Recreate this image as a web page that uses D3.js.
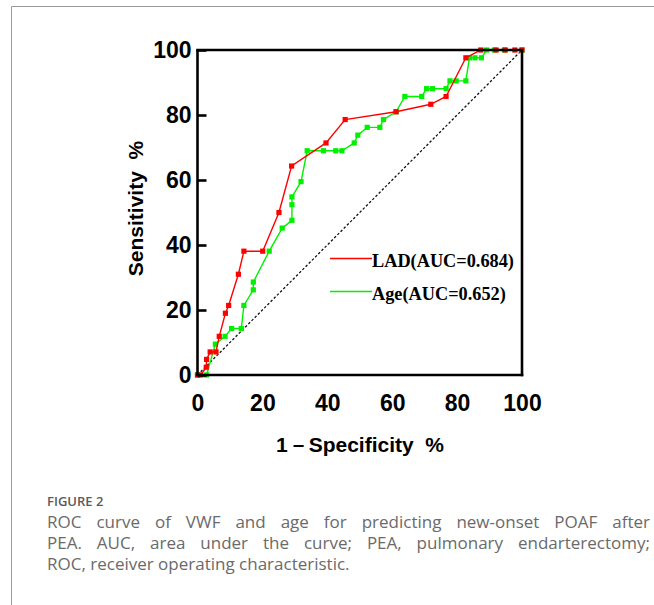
<!DOCTYPE html>
<html>
<head>
<meta charset="utf-8">
<script src="https://cdn.jsdelivr.net/npm/d3@7/dist/d3.min.js"></script>
<style>
  html, body { margin: 0; padding: 0; background: #fff; }
  svg { display: block; }
</style>
</head>
<body>
<svg id="chart" width="654" height="605"></svg>
<script>
// ---- data ----
const ladX = [0, 1.0, 2.7, 2.8, 3.9, 5.7, 6.7, 8.6, 9.6, 12.6, 14.3, 20.1, 25.1, 29.0, 39.6, 45.5, 61.2, 71.9, 76.6, 82.7, 87.3, 92.0, 94.8, 97.8, 100];
const ladY = [0, 0, 2.4, 4.8, 7.1, 7.1, 11.9, 19.0, 21.4, 31.0, 38.1, 38.1, 50.0, 64.3, 71.4, 78.6, 81.0, 83.3, 85.7, 97.6, 100, 100, 100, 100, 100];
const ageX = [0, 2.8, 5.5, 8.5, 10.5, 13.5, 14.3, 17.2, 17.2, 22.1, 26.1, 29.1, 29.1, 29.1, 31.9, 33.8, 38.8, 42.6, 44.5, 48.3, 49.4, 52.3, 56.2, 57.3, 61.2, 63.9, 69.1, 70.6, 72.4, 76.6, 77.8, 79.7, 82.7, 83.8, 85.5, 87.5, 89.1, 91.5, 94.6, 100];
const ageY = [0, 0, 9.5, 11.9, 14.3, 14.3, 21.4, 26.2, 28.6, 38.1, 45.2, 47.6, 52.4, 54.8, 59.5, 69.0, 69.0, 69.0, 69.0, 71.4, 73.8, 76.2, 76.2, 78.6, 81.0, 85.7, 85.7, 88.1, 88.1, 88.1, 90.5, 90.5, 90.5, 97.6, 97.6, 97.6, 100, 100, 100, 100];
const refX = [0, 100];
const refY = [0, 100];
const tickValues = [0, 20, 40, 60, 80, 100];
const seriesNames = ["LAD(AUC=0.684)", "Age(AUC=0.652)"];
const seriesColors = ["#ff0000", "#00f000"];
const xTitle = "1－Specificity  %";
const yTitle = "Sensitivity  %";
const captionHead = "FIGURE 2";
const captionLines = [
  "ROC curve of VWF and age for predicting new-onset POAF after",
  "PEA. AUC, area under the curve; PEA, pulmonary endarterectomy;",
  "ROC, receiver operating characteristic."
];

const svg = d3.select("#chart");

// page frame
svg.append("path")
  .attr("d", "M11.5,605 V6.5 H654")
  .attr("fill", "none").attr("stroke", "#9a9a9a").attr("stroke-width", 1);

const x = d3.scaleLinear().domain([0, 100]).range([197.5, 522]);
const y = d3.scaleLinear().domain([0, 100]).range([375, 50]);

const tickFont = "'Liberation Sans', Arial, sans-serif";

// reference diagonal
const line = d3.line().x(d => x(d[0])).y(d => y(d[1]));
svg.append("path")
  .datum(d3.zip(refX, refY))
  .attr("d", line)
  .attr("fill", "none").attr("stroke", "#111").attr("stroke-width", 1.3)
  .attr("stroke-dasharray", "2.5,2");

// series
const series = [
  { name: seriesNames[1], color: seriesColors[1], pts: d3.zip(ageX, ageY) },
  { name: seriesNames[0], color: seriesColors[0], pts: d3.zip(ladX, ladY) }
];
series.forEach(s => {
  svg.append("path").datum(s.pts).attr("d", line)
    .attr("fill", "none").attr("stroke", s.color).attr("stroke-width", 1.4);
  svg.append("g").selectAll("rect").data(s.pts).join("rect")
    .attr("x", d => x(d[0]) - 2.6).attr("y", d => y(d[1]) - 2.6)
    .attr("width", 5.2).attr("height", 5.2).attr("fill", s.color);
});

// axes
const yAxis = svg.append("g").attr("transform", `translate(${x(0)},0)`)
  .call(d3.axisLeft(y).tickValues(tickValues).tickSizeInner(-9).tickSizeOuter(0).tickPadding(6));
const xAxis = svg.append("g").attr("transform", `translate(0,${y(0)})`)
  .call(d3.axisBottom(x).tickValues(tickValues).tickSize(0).tickPadding(20));
[xAxis, yAxis].forEach(g => {
  g.select(".domain").attr("stroke", "#000").attr("stroke-width", 2.6);
  g.selectAll(".tick line").attr("stroke", "#000").attr("stroke-width", 2.6);
  g.selectAll(".tick text").attr("fill", "#000")
    .style("font-family", tickFont).style("font-weight", "bold").style("font-size", "23px");
});
xAxis.select(".domain").attr("d", `M${x(0) - 1.3},0H${x(100) + 1.3}`);
yAxis.select(".domain").attr("d", `M0,${y(0)}V${y(100)}`);
// top and right frame
svg.append("path")
  .attr("d", `M${x(0) - 1.3},${y(100)}H${x(100)}V${y(0) + 1.3}`)
  .attr("fill", "none").attr("stroke", "#000").attr("stroke-width", 2.6);

// axis titles
svg.append("text")
  .attr("transform", "translate(142.5,208.5) rotate(-90)")
  .attr("text-anchor", "middle")
  .style("white-space", "pre")
  .style("font-family", tickFont).style("font-weight", "bold").style("font-size", "21px")
  .text(yTitle);
svg.append("text")
  .attr("x", 360).attr("y", 451.5)
  .attr("text-anchor", "middle")
  .style("white-space", "pre")
  .style("font-family", tickFont).style("font-weight", "bold").style("font-size", "21px")
  .text(xTitle);

// legend
const legend = svg.append("g");
[0, 1].forEach(i => {
  const ly = [258.5, 291.5][i];
  legend.append("line").attr("x1", 330).attr("x2", 372).attr("y1", ly).attr("y2", ly)
    .attr("stroke", seriesColors[i]).attr("stroke-width", 1.4);
  legend.append("text").attr("x", 372).attr("y", ly + 8.3)
    .style("font-family", "'Liberation Serif', 'Times New Roman', serif")
    .style("font-weight", "bold").style("font-size", "18.3px").attr("fill", "#000")
    .text(seriesNames[i]);
});

// caption
const capFont = "'Open Sans', 'Noto Sans', sans-serif";
svg.append("text").attr("x", 47).attr("y", 506)
  .style("font-family", capFont).style("font-size", "13px").style("font-weight", "600")
  .attr("fill", "#5a5a5a").text(captionHead);
const capY = [528, 549, 570];
captionLines.forEach((t, i) => {
  const tx = svg.append("text").attr("x", 47).attr("y", capY[i])
    .style("font-family", capFont).style("font-size", "17px")
    .attr("fill", "#6a6a6a").text(t);
  if (i < captionLines.length - 1) {
    const w = tx.node().getComputedTextLength();
    const spaces = (t.match(/ /g) || []).length;
    const ws = (603 - w) / spaces;
    tx.style("word-spacing", ws + "px");
  }
});
</script>
</body>
</html>
